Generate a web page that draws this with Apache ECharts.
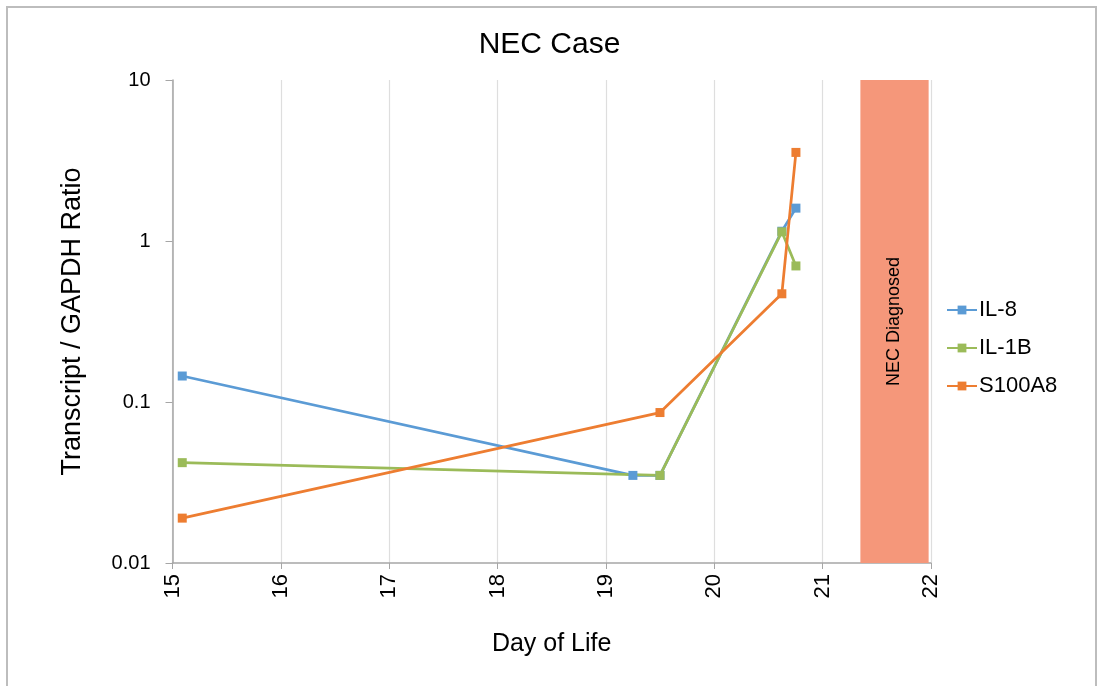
<!DOCTYPE html>
<html>
<head>
<meta charset="utf-8">
<script src="https://cdn.jsdelivr.net/npm/echarts@6/dist/echarts.min.js"></script>
<style>
  html, body { margin: 0; padding: 0; background: #ffffff; }
  #chart { width: 1099px; height: 686px; }
</style>
</head>
<body>
<div id="chart"></div>
<script>
// ---- data ----
const seriesNames = ['IL-8', 'IL-1B', 'S100A8'];
const il8Days = [15.09, 19.25, 19.50, 20.625, 20.755];
const il8Values = [0.145, 0.035, 0.035, 1.15, 1.6];
const il1bDays = [15.09, 19.50, 20.625, 20.755];
const il1bValues = [0.042, 0.035, 1.14, 0.70];
const s100a8Days = [15.09, 19.50, 20.625, 20.755];
const s100a8Values = [0.019, 0.086, 0.47, 3.55];
const diagnosedBand = [21.35, 21.98];
const diagnosedLabel = 'NEC Diagnosed';
const xTicks = [15, 16, 17, 18, 19, 20, 21, 22];
const yTicks = [0.01, 0.1, 1, 10];

const colors = ['#5B9BD5', '#9BBB59', '#ED7D31'];
const font = '"Liberation Sans", Arial, sans-serif';

function pairs(xs, ys) { return xs.map((x, i) => [x, ys[i]]); }

const chart = echarts.init(document.getElementById('chart'), null, { renderer: 'canvas' });

function lineSeries(name, xs, ys, color) {
  return {
    name: name,
    type: 'line',
    data: pairs(xs, ys),
    symbol: 'rect',
    symbolSize: 9,
    showSymbol: true,
    lineStyle: { color: color, width: 2.75 },
    itemStyle: { color: color },
    animation: false,
    z: 3
  };
}

const option = {
  animation: false,
  backgroundColor: '#ffffff',
  title: {
    text: 'NEC Case',
    left: 'center',
    top: 25,
    textStyle: { fontFamily: font, fontSize: 30, fontWeight: 'normal', color: '#000000' }
  },
  legend: {
    orient: 'vertical',
    left: 941,
    top: 294,
    itemWidth: 30,
    itemHeight: 11,
    itemGap: 16,
    data: seriesNames,
    textStyle: { fontFamily: font, fontSize: 22, color: '#000000', padding: [0, 0, 0, -3] }
  },
  grid: { left: 172.5, right: 168.2, top: 80, bottom: 123, containLabel: false },
  xAxis: {
    type: 'value',
    min: xTicks[0],
    max: xTicks[xTicks.length - 1],
    interval: 1,
    name: 'Day of Life',
    nameLocation: 'middle',
    nameGap: 69,
    nameTextStyle: { fontFamily: font, fontSize: 25, color: '#000000' },
    axisLine: { show: true, onZero: false, lineStyle: { color: '#a6a6a6', width: 1.5 } },
    axisTick: { show: true, length: 6, lineStyle: { color: '#a6a6a6' } },
    axisLabel: { rotate: 90, margin: 11, fontFamily: font, fontSize: 22, color: '#000000' },
    splitLine: { show: true, lineStyle: { color: '#dedede', width: 1.2 } }
  },
  yAxis: {
    type: 'log',
    logBase: 10,
    min: yTicks[0],
    max: yTicks[yTicks.length - 1],
    name: 'Transcript / GAPDH Ratio',
    nameLocation: 'middle',
    nameGap: 86,
    nameTextStyle: { fontFamily: font, fontSize: 27, color: '#000000' },
    axisLine: { show: true, lineStyle: { color: '#a6a6a6', width: 1.5 } },
    axisTick: { show: true, length: 7, lineStyle: { color: '#a6a6a6' } },
    axisLabel: {
      margin: 22, fontFamily: font, fontSize: 20, color: '#000000',
      formatter: function (v) { return String(+v.toPrecision(3)); }
    },
    splitLine: { show: false },
    minorTick: { show: false }
  },
  series: [
    {
      name: 'band',
      type: 'line',
      data: [],
      silent: true,
      z: 1,
      markArea: {
        silent: true,
        itemStyle: { color: '#F5977A' },
        label: {
          show: true,
          position: 'inside',
          rotate: 90,
          fontFamily: font,
          fontSize: 18,
          color: '#000000'
        },
        data: [[
          { name: diagnosedLabel, xAxis: diagnosedBand[0], yAxis: yTicks[yTicks.length - 1] },
          { xAxis: diagnosedBand[1], yAxis: yTicks[0] }
        ]]
      }
    },
    lineSeries(seriesNames[0], il8Days, il8Values, colors[0]),
    lineSeries(seriesNames[1], il1bDays, il1bValues, colors[1]),
    lineSeries(seriesNames[2], s100a8Days, s100a8Values, colors[2])
  ],
  graphic: [
    {
      type: 'rect',
      silent: true,
      shape: { x: 7, y: 7, width: 1089, height: 700 },
      style: { fill: 'none', stroke: '#bdbdbd', lineWidth: 2 }
    }
  ]
};

chart.setOption(option);
</script>
</body>
</html>
